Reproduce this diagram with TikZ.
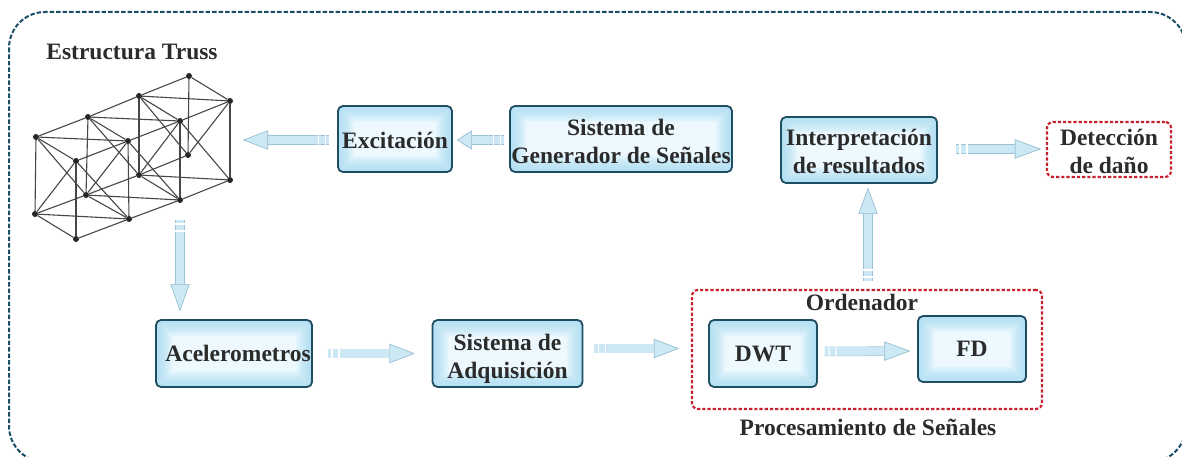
\documentclass[tikz,border=0pt]{standalone}
\usepackage{fontspec}
\setmainfont{Liberation Serif}
\usetikzlibrary{arrows.meta,calc,decorations.markings}
\definecolor{boxline}{HTML}{1F4E62}
\definecolor{boxedge}{HTML}{A9DDF4}
\definecolor{boxmid}{HTML}{EDF9FE}
\definecolor{redline}{HTML}{C9202F}
\definecolor{outerline}{HTML}{1C4F66}
\definecolor{arrowfill}{HTML}{CDE8F5}
\definecolor{arrowline}{HTML}{9CC3D3}
\definecolor{inkcol}{HTML}{2B2B2B}
\newcommand{\lineup}[1]{\rule{0pt}{#1pt}}
\tikzset{
  lbl/.style={font=\bfseries\fontsize{23.5}{28}\selectfont,text=inkcol,align=center,inner sep=0pt},
  bluebox/.style={lbl,draw=boxline,fill=boxmid,line width=1.8pt,rounded corners=5pt,minimum width=#1,
    path picture={\foreach \w in {2,4,...,32}
      \draw[boxedge,opacity=.09,line width=\w pt] (path picture bounding box.south west) rectangle (path picture bounding box.north east);}},
  bluebox/.default=100pt,
  redbox/.style={lbl,draw=redline,line width=2.2pt,dash pattern=on 3.2pt off 2pt,rounded corners=6pt},
  joint/.style={circle,fill=black!85,inner sep=0pt,minimum size=6pt},
  member/.style={draw=black!72,line width=1.1pt},
  conn/.style={
    draw=arrowfill,line width=8.5pt,
    -{Triangle[length=#1,width=19pt,fill=arrowfill,color=arrowline,line width=.6pt]},
    preaction={draw=arrowline,line width=9.5pt,-{Triangle[length=#1,width=19pt,fill=arrowline,color=arrowline,line width=.6pt]}},
    postaction={decorate,decoration={markings,
      mark=at position 4pt with {\draw[-,white,line width=1.2pt] (0,-5)--(0,5);},
      mark=at position 11pt with {\draw[-,white,line width=1.2pt] (0,-5)--(0,5);}}}
  },
  conn/.default=26pt
}
\begin{document}
\begin{tikzpicture}[x=1pt,y=-1pt]
\useasboundingbox (0,0) rectangle (1182,457);
\clip (0,0) rectangle (1182,457);
\fill[white] (0,0) rectangle (1182,457);
\draw[outerline,line width=2pt,dash pattern=on 4.5pt off 2pt,rounded corners=36pt] (9,12) rectangle (1186,462);

\node[lbl] (ttruss) at (132,52) {Estructura Truss};

% truss joints
\foreach \n/\x/\y in {A/36/137,B/88/117,C/139/96,D/189/76,E/230/101,F/180/121,G/128/141,H/76/161,
  a/35/214,b/86/195,c/139/175,d/188/155,e/230/180,f/180/200,g/129/219,h/76/239}
  \node[joint] (t\n) at (\x,\y) {};
\foreach \p/\q in {A/B,B/C,C/D,H/G,G/F,F/E,A/H,A/G,B/G,B/F,C/F,C/E,D/E,
  A/a,B/b,C/c,D/d,E/e,F/f,G/g,H/h,
  a/b,b/c,c/d,h/g,g/f,f/e,a/h,a/g,b/g,b/f,c/f,c/e,
  A/b,a/H,H/g,G/b,B/c,G/f,C/d,F/c,F/e,E/d}
  \draw[member] (t\p) -- (t\q);

% boxes
\node[bluebox=114pt,minimum height=66pt] (exc) at (395,139) {\lineup{19}Excitación};
\node[bluebox=222pt,minimum height=66pt] (gen) at (621,139) {\lineup{21}Sistema de\\Generador de Señales};
\node[bluebox=156pt,minimum height=66pt] (int) at (859,150) {\lineup{19}Interpretación\\de resultados};
\node[redbox,minimum width=124pt,minimum height=55pt] (det) at (1109,149.5) {\lineup{21}Detección\\de daño};
\node[bluebox=156pt,minimum height=67pt] (ace) at (234,353.5) {\hspace*{8pt}Acelerometros};
\node[bluebox=150pt,minimum height=67pt] (adq) at (507.5,353.5) {\lineup{26}Sistema de\\Adquisición};
\node[redbox,minimum width=350pt,minimum height=119pt] (ord) at (867,349.5) {};
\node[bluebox=108pt,minimum height=67pt] (dwt) at (763,353.5) {DWT};
\node[bluebox=108pt,minimum height=66pt] (fd) at (972,349) {FD};
\node[lbl] (tord) at (862,302) {Ordenador};
\node[lbl] (tproc) at (868,427) {Procesamiento de Señales};

% free ends
\coordinate (trussR) at (243,140);
\coordinate (trussB) at (180,220);

% connectors
\draw[conn=15pt] ($(gen.west)+(-5,1)$) -- ($(exc.east)+(4,1)$);
\draw[conn=25pt] ($(exc.west)+(-8,1)$) -- (trussR);
\draw[conn=27pt] (trussB) -- (trussB |- 0,311);
\draw[conn=25pt] ($(ace.east)+(15,0)$) -- ($(adq.west)+(-17,0)$);
\draw[conn=25pt] ($(adq.east)+(11,-5)$) -- ($(ord.west)+(-12,-1)$);
\draw[conn=26pt] ($(dwt.east)+(7,-2)$) -- ($(fd.west)+(-7,2)$);
\draw[conn=26pt] ($(ord.north)+(1,-8)$) -- ($(int.south -| ord.north)+(1,4)$);
\draw[conn=26pt] ($(int.east)+(18,-1)$) -- ($(det.west)+(-5,-0.5)$);
\end{tikzpicture}
\end{document}
